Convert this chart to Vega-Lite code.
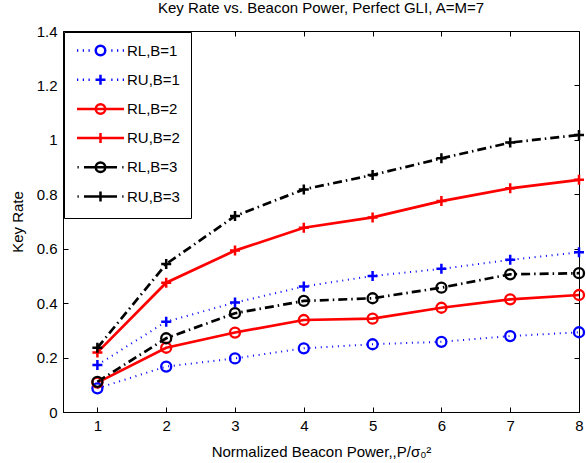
{
  "$schema": "https://vega.github.io/schema/vega-lite/v6.json",
  "width": 516,
  "height": 381,
  "autosize": {"type": "none"},
  "padding": {"left": 63, "top": 31, "right": 7, "bottom": 51},
  "background": "white",
  "config": {
    "font": "Liberation Sans",
    "view": {"stroke": "black", "strokeWidth": 1},
    "axis": {
      "grid": false,
      "domainColor": "black",
      "tickColor": "black",
      "labelColor": "black",
      "titleColor": "black",
      "labelFontSize": 15,
      "titleFontSize": 15,
      "titleFontWeight": "normal",
      "labelFlush": false,
      "labelOverlap": false,
      "tickSize": -5
    }
  },
  "title": {
    "text": "Key Rate vs. Beacon Power, Perfect GLI, A=M=7",
    "fontSize": 15,
    "fontWeight": "normal",
    "color": "black",
    "anchor": "middle",
    "offset": 8
  },
  "data": {
    "values": [
      {"p": 1, "rate": 0.087, "series": "RL,B=1"},
      {"p": 2, "rate": 0.167, "series": "RL,B=1"},
      {"p": 3, "rate": 0.197, "series": "RL,B=1"},
      {"p": 4, "rate": 0.234, "series": "RL,B=1"},
      {"p": 5, "rate": 0.249, "series": "RL,B=1"},
      {"p": 6, "rate": 0.258, "series": "RL,B=1"},
      {"p": 7, "rate": 0.279, "series": "RL,B=1"},
      {"p": 8, "rate": 0.293, "series": "RL,B=1"},
      {"p": 1, "rate": 0.173, "series": "RU,B=1"},
      {"p": 2, "rate": 0.332, "series": "RU,B=1"},
      {"p": 3, "rate": 0.402, "series": "RU,B=1"},
      {"p": 4, "rate": 0.461, "series": "RU,B=1"},
      {"p": 5, "rate": 0.500, "series": "RU,B=1"},
      {"p": 6, "rate": 0.526, "series": "RU,B=1"},
      {"p": 7, "rate": 0.559, "series": "RU,B=1"},
      {"p": 8, "rate": 0.587, "series": "RU,B=1"},
      {"p": 1, "rate": 0.108, "series": "RL,B=2"},
      {"p": 2, "rate": 0.236, "series": "RL,B=2"},
      {"p": 3, "rate": 0.292, "series": "RL,B=2"},
      {"p": 4, "rate": 0.338, "series": "RL,B=2"},
      {"p": 5, "rate": 0.343, "series": "RL,B=2"},
      {"p": 6, "rate": 0.383, "series": "RL,B=2"},
      {"p": 7, "rate": 0.414, "series": "RL,B=2"},
      {"p": 8, "rate": 0.430, "series": "RL,B=2"},
      {"p": 1, "rate": 0.219, "series": "RU,B=2"},
      {"p": 2, "rate": 0.475, "series": "RU,B=2"},
      {"p": 3, "rate": 0.593, "series": "RU,B=2"},
      {"p": 4, "rate": 0.677, "series": "RU,B=2"},
      {"p": 5, "rate": 0.715, "series": "RU,B=2"},
      {"p": 6, "rate": 0.775, "series": "RU,B=2"},
      {"p": 7, "rate": 0.822, "series": "RU,B=2"},
      {"p": 8, "rate": 0.853, "series": "RU,B=2"},
      {"p": 1, "rate": 0.111, "series": "RL,B=3"},
      {"p": 2, "rate": 0.271, "series": "RL,B=3"},
      {"p": 3, "rate": 0.363, "series": "RL,B=3"},
      {"p": 4, "rate": 0.408, "series": "RL,B=3"},
      {"p": 5, "rate": 0.418, "series": "RL,B=3"},
      {"p": 6, "rate": 0.457, "series": "RL,B=3"},
      {"p": 7, "rate": 0.506, "series": "RL,B=3"},
      {"p": 8, "rate": 0.510, "series": "RL,B=3"},
      {"p": 1, "rate": 0.236, "series": "RU,B=3"},
      {"p": 2, "rate": 0.544, "series": "RU,B=3"},
      {"p": 3, "rate": 0.720, "series": "RU,B=3"},
      {"p": 4, "rate": 0.818, "series": "RU,B=3"},
      {"p": 5, "rate": 0.871, "series": "RU,B=3"},
      {"p": 6, "rate": 0.932, "series": "RU,B=3"},
      {"p": 7, "rate": 0.990, "series": "RU,B=3"},
      {"p": 8, "rate": 1.018, "series": "RU,B=3"}
    ]
  },
  "layer": [
    {
      "mark": {"type": "point", "filled": false, "opacity": 0, "size": 100},
      "encoding": {
        "x": {"field": "p", "type": "quantitative", "axis": null, "scale": {"domain": [0.5, 8], "nice": false, "zero": false}},
        "y": {"field": "rate", "type": "quantitative", "axis": null, "scale": {"domain": [0, 1.4], "nice": false, "zero": false}},
        "color": {
          "field": "series", "type": "nominal",
          "scale": {"domain": ["RL,B=1", "RU,B=1", "RL,B=2", "RU,B=2", "RL,B=3", "RU,B=3"], "range": ["#0000ff", "#0000ff", "#ff0000", "#ff0000", "#000000", "#000000"]},
          "legend": {"title": null, "orient": "top-left", "offset": 1, "padding": 11, "rowPadding": 8.2, "symbolSize": 100, "symbolStrokeWidth": 2.5, "symbolOpacity": 1, "symbolOffset": 18, "labelOffset": 19, "labelFontSize": 15, "labelColor": "black", "labelLimit": 200, "strokeColor": "black", "fillColor": "white", "cornerRadius": 0}
        },
        "shape": {
          "field": "series", "type": "nominal",
          "scale": {
            "domain": ["RL,B=1", "RU,B=1", "RL,B=2", "RU,B=2", "RL,B=3", "RU,B=3"],
            "range": [
              "M-4.7,0H-4.45M-3.55,0H-3.3M-2.4,0H-2.15M2.15,0H2.4M3.3,0H3.55M4.45,0H4.7M-0.95,0A0.95,0.95 0 1,1 0.95,0A0.95,0.95 0 1,1 -0.95,0",
              "M-4.7,0H-4.45M-3.55,0H-3.3M-2.4,0H-2.15M2.15,0H2.4M3.3,0H3.55M4.45,0H4.7M-1,0H1M0,-1V1",
              "M-4.7,0H4.7M-0.95,0A0.95,0.95 0 1,1 0.95,0A0.95,0.95 0 1,1 -0.95,0",
              "M-4.7,0H4.7M0,-1V1",
              "M-4.6,0H-4.35M-3.3,0H3.3M4.35,0H4.6M-0.95,0A0.95,0.95 0 1,1 0.95,0A0.95,0.95 0 1,1 -0.95,0",
              "M-4.6,0H-4.35M-3.3,0H3.3M4.35,0H4.6M0,-1V1"
            ]
          },
          "legend": {"title": null, "orient": "top-left", "offset": 1, "padding": 11, "rowPadding": 8.2, "symbolSize": 100, "symbolStrokeWidth": 2.5, "symbolOpacity": 1, "symbolOffset": 18, "labelOffset": 19, "labelFontSize": 15, "labelColor": "black", "labelLimit": 200, "strokeColor": "black", "fillColor": "white", "cornerRadius": 0}
        }
      }
    },
    {
      "transform": [{"filter": "indexof(datum.series, 'B=1') >= 0"}],
      "mark": {"type": "line", "strokeWidth": 2, "strokeDash": [1, 4.7]},
      "encoding": {
        "x": {
          "field": "p", "type": "quantitative",
          "axis": {"orient": "bottom", "values": [1, 2, 3, 4, 5, 6, 7, 8], "format": "d", "labelPadding": 11, "title": "Normalized Beacon Power,,P/σ₀²", "titlePadding": 11}
        },
        "y": {
          "field": "rate", "type": "quantitative",
          "axis": {"orient": "left", "values": [0, 0.2, 0.4, 0.6, 0.8, 1, 1.2, 1.4], "format": ".1~f", "labelPadding": 11, "title": "Key Rate", "titlePadding": 10.5}
        },
        "color": {"field": "series", "type": "nominal", "legend": null}
      }
    },
    {
      "transform": [{"filter": "indexof(datum.series, 'B=2') >= 0"}],
      "mark": {"type": "line", "strokeWidth": 2.7},
      "encoding": {
        "x": {"field": "p", "type": "quantitative", "axis": null},
        "y": {"field": "rate", "type": "quantitative", "axis": null},
        "color": {"field": "series", "type": "nominal", "legend": null}
      }
    },
    {
      "transform": [{"filter": "indexof(datum.series, 'B=3') >= 0"}],
      "mark": {"type": "line", "strokeWidth": 2.7, "strokeDash": [9, 4, 1.5, 4]},
      "encoding": {
        "x": {"field": "p", "type": "quantitative", "axis": null},
        "y": {"field": "rate", "type": "quantitative", "axis": null},
        "color": {"field": "series", "type": "nominal", "legend": null}
      }
    },
    {
      "transform": [{"filter": "indexof(datum.series, 'RL') >= 0"}],
      "mark": {"type": "point", "shape": "circle", "filled": false, "size": 100, "strokeWidth": 2.3, "opacity": 1},
      "encoding": {
        "x": {"field": "p", "type": "quantitative", "axis": {"orient": "top", "labels": false, "title": null, "domain": false, "values": [1, 2, 3, 4, 5, 6, 7, 8]}},
        "y": {"field": "rate", "type": "quantitative", "axis": {"orient": "right", "labels": false, "title": null, "domain": false, "values": [0, 0.2, 0.4, 0.6, 0.8, 1, 1.2, 1.4]}},
        "color": {"field": "series", "type": "nominal", "legend": null}
      }
    },
    {
      "transform": [{"filter": "indexof(datum.series, 'RU') >= 0"}],
      "mark": {"type": "point", "shape": "M-1,0H1M0,-1V1", "filled": false, "size": 100, "strokeWidth": 2.5, "opacity": 1},
      "encoding": {
        "x": {"field": "p", "type": "quantitative", "axis": null},
        "y": {"field": "rate", "type": "quantitative", "axis": null},
        "color": {"field": "series", "type": "nominal", "legend": null}
      }
    }
  ],
  "resolve": {"axis": {"x": "independent", "y": "independent"}}
}
